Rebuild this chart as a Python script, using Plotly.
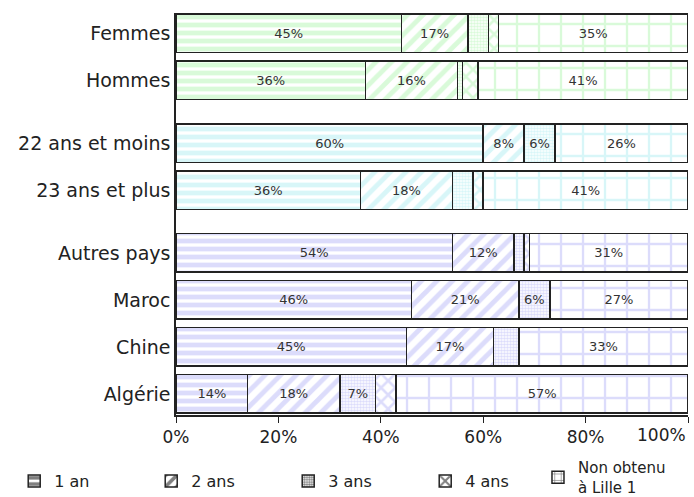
import plotly.graph_objects as go

groupes = ["Femmes", "Hommes", "22 ans et moins", "23 ans et plus",
           "Autres pays", "Maroc", "Chine", "Algérie"]
famille = [0, 0, 1, 1, 2, 2, 2, 2]

series = ["1 an", "2 ans", "3 ans", "4 ans", "Non obtenu<br>à Lille 1"]

un_an = [44, 37, 60, 36, 54, 46, 45, 14]
deux_ans = [13, 18, 8, 18, 12, 21, 17, 18]
trois_ans = [4, 1, 6, 4, 2, 6, 5, 7]
quatre_ans = [2, 3, 0, 2, 1, 0, 0, 4]
non_obtenu = [37, 41, 26, 40, 31, 27, 33, 57]

lab_un = ["45%", "36%", "60%", "36%", "54%", "46%", "45%", "14%"]
lab_deux = ["17%", "16%", "8%", "18%", "12%", "21%", "17%", "18%"]
lab_trois = ["", "", "6%", "", "", "6%", "", "7%"]
lab_quatre = ["", "", "", "", "", "", "", ""]
lab_non = ["35%", "41%", "26%", "41%", "31%", "27%", "33%", "57%"]

tick_vals = [0, 20, 40, 60, 80, 100]
tick_labels = ["0%", "20%", "40%", "60%", "80%", "100%"]

couleurs = ["#b4f6b4", "#b2eef2", "#babaf8"]
motifs = [
    dict(shape="-", size=8, solidity=0.6),
    dict(shape="/", size=11, solidity=0.45),
    dict(shape=".", size=3, solidity=0.6),
    dict(shape="x", size=10, solidity=0.45),
    dict(shape="+", size=22, solidity=0.2),
]

gap = 0.34
pos = [i + gap * f for i, f in enumerate(famille)]
fg = [couleurs[f] for f in famille]

fig = go.Figure()
valeurs = [un_an, deux_ans, trois_ans, quatre_ans, non_obtenu]
labels = [lab_un, lab_deux, lab_trois, lab_quatre, lab_non]
for nom, vals, labs, motif in zip(series, valeurs, labels, motifs):
    fig.add_trace(go.Bar(
        orientation="h", x=vals, y=pos, width=0.82,
        marker=dict(color="white", line=dict(color="#222", width=1.5),
                    pattern=dict(fgcolor=fg, bgcolor="white", **motif)),
        text=labs, textposition="inside", insidetextanchor="middle",
        textangle=0, insidetextfont=dict(size=13, color="#333"),
        showlegend=False, hoverinfo="skip",
    ))

# entrées de légende en noir (la dernière, sur deux lignes, dans une 2e légende)
for i, (nom, motif) in enumerate(zip(series, motifs)):
    m = dict(motif)
    if m["shape"] == "+":
        m["size"] = 8
        m["solidity"] = 0.2
    fig.add_trace(go.Bar(
        orientation="h", x=[None], y=[None], name=nom,
        legend="legend2" if i == len(series) - 1 else "legend",
        marker=dict(color="white", line=dict(color="#222", width=1.5),
                    pattern=dict(fgcolor="black", bgcolor="white", **m)),
    ))

fig.update_layout(
    width=694, height=497,
    barmode="stack",
    plot_bgcolor="white", paper_bgcolor="white",
    font=dict(family="DejaVu Sans", color="#222"),
    margin=dict(l=176, r=6, t=13, b=82, autoexpand=False),
    legend=dict(orientation="h", x=-0.316, y=-0.122, xanchor="left", yanchor="top",
                entrywidth=92, itemwidth=30, font=dict(size=16),
                traceorder="normal", valign="middle"),
    legend2=dict(orientation="h", x=0.707, y=-0.09, xanchor="left", yanchor="top",
                 itemwidth=30, font=dict(size=15), valign="middle"),
    annotations=[dict(x=tick_vals[-1], y=0, xref="x", yref="paper",
                      text=tick_labels[-1], showarrow=False, xanchor="right",
                      yanchor="top", yshift=-8, font=dict(size=17, color="#222"))],
)
fig.update_xaxes(range=[0, 100], tickvals=tick_vals,
                 ticktext=tick_labels[:-1] + [""],
                 ticks="outside", ticklen=6, tickcolor="#222",
                 showline=True, linecolor="#222", linewidth=1.5,
                 showgrid=False, zeroline=False, tickfont=dict(size=17),
                 automargin=False)
fig.update_yaxes(range=[7.68 + 0.45, -0.43], tickvals=pos, ticktext=groupes,
                 showline=True, linecolor="#222", linewidth=1.5,
                 showgrid=False, zeroline=False, ticks="",
                 tickfont=dict(size=19), automargin=False)

fig.write_html("out.html", config={"displayModeBar": False},
               post_script="document.body.style.margin='0';"
                           "document.body.style.overflow='hidden';")
